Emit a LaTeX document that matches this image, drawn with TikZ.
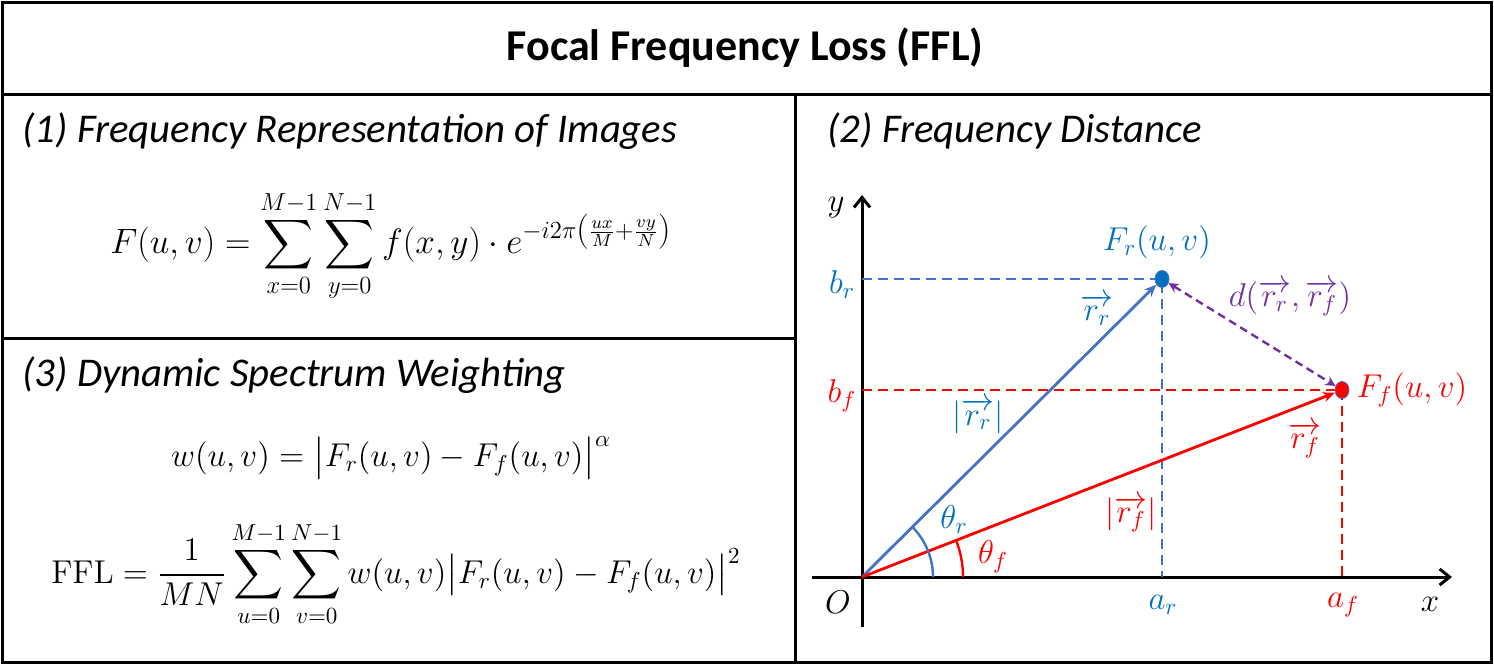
\RequirePackage{fix-cm}
\documentclass[tikz,border=0pt]{standalone}
\usepackage{amsmath}
\usepackage[no-math]{fontspec}
\setmainfont{Carlito}
\usetikzlibrary{arrows.meta,shapes.geometric}
\definecolor{lblue}{HTML}{4472C4}
\definecolor{tblue}{HTML}{0070C0}
\definecolor{pur}{HTML}{7030A0}
\definecolor{fred}{HTML}{FF0000}
\begin{document}
\begin{tikzpicture}[x=0.5pt,y=-0.5pt,
  frame/.style={line width=1.5pt},
  sectitle/.style={anchor=base west,inner sep=0,font=\fontsize{20.4}{24}\selectfont\itshape},
  formula/.style={inner sep=0,font=\fontsize{16.5}{19}\selectfont},
  lab/.style={inner sep=0,font=\fontsize{16.5}{19}\selectfont},
  axis/.style={line width=1.5pt,-{Straight Barb[length=5pt,width=8pt]}},
  vecr/.style={line width=1.4pt,lblue,-{Stealth[length=6pt,width=5pt]}},
  vecf/.style={line width=1.4pt,fred,-{Stealth[length=6pt,width=5pt]}},
  guide/.style={line width=1.3pt,dash pattern=on 5pt off 3pt},
  dotr/.style={ellipse,fill=tblue,draw=lblue,minimum width=7pt,minimum height=8.5pt,inner sep=0},
  dotf/.style={ellipse,fill=fred,draw=lblue,minimum width=7pt,minimum height=8.5pt,inner sep=0}]
\useasboundingbox (0,0) rectangle (1494,666);
% frames
\draw[frame] (2,2) rectangle (1491,662);
\draw[frame] (2,94) -- (1491,94);
\draw[frame] (795,94) -- (795,662);
\draw[frame] (2,338) -- (795,338);
% title
\node[font=\fontsize{22}{26}\selectfont\bfseries] (title) at (745,48) {Focal Frequency Loss (FFL)};
\node[sectitle] (s1) at (22,142) {(1) Frequency Representation of Images};
\node[sectitle] (s2) at (827,142) {(2) Frequency Distance};
\node[sectitle] (s3) at (22,386) {(3) Dynamic Spectrum Weighting};
% formulas
\node[formula,font=\fontsize{17.6}{21}\selectfont] (f1) at (391,246) {$\displaystyle F(u,v)=\sum_{x=0}^{M-1}\sum_{y=0}^{N-1} f(x,y)\cdot e^{-i2\pi\left(\frac{ux}{M}+\frac{vy}{N}\right)}$};
\node[formula] (f2) at (391,458) {$\displaystyle w(u,v)=\bigl|F_r(u,v)-F_f(u,v)\bigr|^{\alpha}$};
\node[formula] (f3) at (396,574) {$\displaystyle \mathrm{FFL}=\frac{1}{MN}\sum_{u=0}^{M-1}\sum_{v=0}^{N-1} w(u,v)\bigl|F_r(u,v)-F_f(u,v)\bigr|^{2}$};
% axes
\coordinate (O) at (862,577);
\coordinate (ybot) at (862,627);
\coordinate (ytop) at (862,195);
\coordinate (xl) at (812,577);
\coordinate (xr) at (1452,577);
\draw[axis] (ybot) -- (ytop);
\draw[axis] (xl) -- (xr);
\node[lab] (ly) at (836,208) {$y$};
\node[lab] (lx) at (1430,604) {$x$};
\node[lab] (lO) at (838,602) {$O$};
% points
\coordinate (byr) at (862,279);
\coordinate (byf) at (862,390);
\coordinate (axr) at (1162,577);
\coordinate (axf) at (1342,577);
\draw[guide,lblue] (byr) -- (1162,279) -- (axr);
\draw[guide,fred] (byf) -- (1342,390) -- (axf);
\node[dotr] (Pr) at (1162,279) {};
\node[dotf] (Pf) at (1342,390) {};
\draw[vecr] (O) -- (Pr);
\draw[vecf] (O) -- (Pf);
\draw[line width=1.2pt,pur,dash pattern=on 4pt off 2.5pt,{Stealth[length=5pt,width=5pt]}-{Stealth[length=5pt,width=5pt]}] (Pr) -- (Pf);
% angle arcs
\draw[line width=1.2pt,lblue] (933,577) arc[start angle=0,end angle=-44.8,radius=71];
\draw[line width=1.2pt,fred] (963,577) arc[start angle=0,end angle=-21.3,radius=101];
% labels
\node[lab,text=tblue] (lFr) at (1157,242) {$F_r(u,v)$};
\node[lab,text=tblue] (lbr) at (842,285) {$b_r$};
\node[lab,text=fred] (lbf) at (842,396) {$b_f$};
\node[lab,text=fred] (lFf) at (1412,390) {$F_f(u,v)$};
\node[lab,text=tblue] (lrr) at (1097,310) {$\overrightarrow{r_r}$};
\node[lab,text=tblue] (lnr) at (978,416) {$|\overrightarrow{r_r}|$};
\node[lab,text=pur] (ld) at (1290,298) {$d(\overrightarrow{r_r},\overrightarrow{r_f})$};
\node[lab,text=fred] (lrf) at (1305,440) {$\overrightarrow{r_f}$};
\node[lab,text=fred] (lnf) at (1131,514) {$|\overrightarrow{r_f}|$};
\node[lab,text=tblue] (ltr) at (954,520) {$\theta_r$};
\node[lab,text=fred] (ltf) at (993,557) {$\theta_f$};
\node[lab,text=tblue] (lar) at (1163,605) {$a_r$};
\node[lab,text=fred] (laf) at (1343,605) {$a_f$};
\end{tikzpicture}
\end{document}
